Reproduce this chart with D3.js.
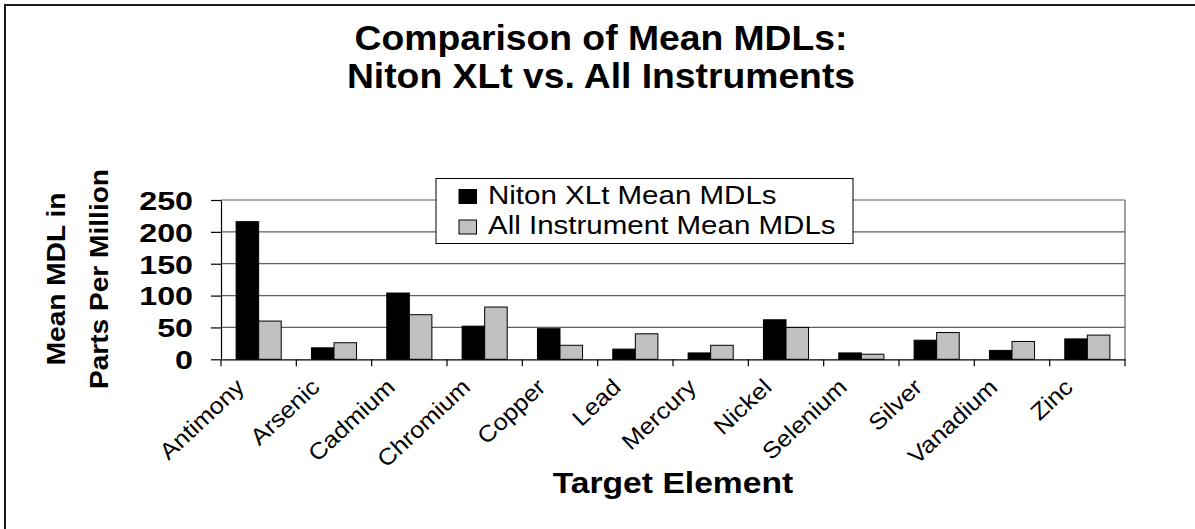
<!DOCTYPE html>
<html>
<head>
<meta charset="utf-8">
<script src="https://cdn.jsdelivr.net/npm/d3@7/dist/d3.min.js"></script>
<style>
  html, body { margin: 0; padding: 0; background: #fff; overflow: hidden; }
  svg { display: block; overflow: hidden; font-family: "Liberation Sans", Arial, sans-serif; }
</style>
</head>
<body>
<svg id="chart" width="1195" height="529"></svg>
<script>
const categories = ["Antimony", "Arsenic", "Cadmium", "Chromium", "Copper", "Lead",
                    "Mercury", "Nickel", "Selenium", "Silver", "Vanadium", "Zinc"];
const seriesNames = ["Niton XLt Mean MDLs", "All Instrument Mean MDLs"];
const nitonValues = [216, 18, 104, 52, 48, 16, 10, 62, 10, 30, 14, 32];
const allInstrumentValues = [60, 26, 70, 82, 22, 40, 22, 50, 8, 42, 28, 38];
const yTicks = [0, 50, 100, 150, 200, 250];
const titleLines = ["Comparison of Mean MDLs:", "Niton XLt vs. All Instruments"];
const yTitleLines = ["Mean MDL in", "Parts Per Million"];
const xTitle = "Target Element";

const colors = ["#000000", "#c0c0c0"];
const seriesValues = [nitonValues, allInstrumentValues];

const svg = d3.select("#chart");

function stretch(sel, f) {
  sel.each(function () {
    const w = this.getComputedTextLength();
    this.setAttribute("textLength", w * f);
    this.setAttribute("lengthAdjust", "spacingAndGlyphs");
  });
}

// outer border (only top/left edges fall inside the picture)
svg.append("path")
  .attr("d", "M5,529 L5,5 L1195,5")
  .attr("fill", "none").attr("stroke", "#1a1a1a").attr("stroke-width", 2);

const plot = { left: 221, right: 1125, top: 200, bottom: 359.3 };

const x = d3.scaleBand().domain(categories).range([plot.left, plot.right]).paddingInner(0).paddingOuter(0);
const xs = d3.scaleBand().domain([0, 1]).range([0, x.bandwidth()]).paddingInner(0).paddingOuter(0.67);
const y = d3.scaleLinear().domain([0, 250]).range([plot.bottom, plot.top]);

// gridlines
svg.append("g").selectAll("line").data(yTicks.filter(t => t > 0)).join("line")
  .attr("x1", plot.left).attr("x2", plot.right)
  .attr("y1", d => y(d)).attr("y2", d => y(d))
  .attr("stroke", "#606060").attr("stroke-width", 1.2);

// right plot border
svg.append("line")
  .attr("x1", plot.right).attr("x2", plot.right)
  .attr("y1", y(250)).attr("y2", y(0))
  .attr("stroke", "#606060").attr("stroke-width", 1.2);

// bars
const groups = svg.append("g").selectAll("g").data(categories).join("g")
  .attr("transform", d => `translate(${x(d)},0)`);
groups.selectAll("rect")
  .data((c, i) => seriesValues.map((vals, s) => ({ s, v: vals[i] })))
  .join("rect")
  .attr("x", d => xs(d.s))
  .attr("width", xs.bandwidth())
  .attr("y", d => y(d.v))
  .attr("height", d => y(0) - y(d.v))
  .attr("fill", d => colors[d.s])
  .attr("stroke", "#000").attr("stroke-width", 1);

// y axis
const yAxis = svg.append("g")
  .attr("transform", `translate(${plot.left},0)`)
  .call(d3.axisLeft(y).tickValues(yTicks).tickSize(10).tickPadding(18).tickSizeOuter(0));
yAxis.select(".domain").attr("stroke", "#000").attr("stroke-width", 1.2);
yAxis.selectAll(".tick line").attr("stroke", "#000").attr("stroke-width", 1.2);
const yLabels = yAxis.selectAll(".tick text")
  .attr("font-size", 26).attr("font-weight", "bold").attr("fill", "#000")
  .attr("font-family", "Liberation Sans, Arial, sans-serif")
  .attr("dy", "0.36em");
stretch(yLabels, 1.24);

// x axis
const xAxis = svg.append("g")
  .attr("transform", `translate(0,${plot.bottom})`)
  .call(d3.axisBottom(x).tickSize(0).tickFormat(""));
xAxis.select(".domain").attr("stroke", "#000").attr("stroke-width", 1.2);
const boundaries = categories.map(c => x(c)).concat([x(categories[categories.length - 1]) + x.bandwidth()]);
xAxis.selectAll(".bt").data(boundaries).join("line").attr("class", "bt")
  .attr("x1", d => d).attr("x2", d => d).attr("y1", 0).attr("y2", 7)
  .attr("stroke", "#000").attr("stroke-width", 1.2);

// x labels
const xLabels = svg.append("g").selectAll("text").data(categories).join("text")
  .attr("transform", d => `translate(${x(d) + x.bandwidth() / 2 - 13},389) rotate(-43)`)
  .attr("text-anchor", "end")
  .attr("font-size", 23)
  .attr("fill", "#000")
  .text(d => d);
stretch(xLabels, 1.1);

// titles
const t = svg.append("g").selectAll("text").data(titleLines).join("text")
  .attr("x", 601).attr("y", (d, i) => 50 + i * 38)
  .attr("text-anchor", "middle")
  .attr("font-size", 35).attr("font-weight", "bold").attr("fill", "#000")
  .text(d => d);
stretch(t, 1.065);

// y title
const yt = svg.append("g").selectAll("text").data(yTitleLines).join("text")
  .attr("transform", (d, i) => `translate(${65 + i * 42.5},279) rotate(-90)`)
  .attr("text-anchor", "middle")
  .attr("font-size", 26).attr("font-weight", "bold").attr("fill", "#000")
  .text(d => d);
stretch(yt, 1.08);

// x title
const xt = svg.append("text")
  .attr("x", (plot.left + plot.right) / 2).attr("y", 492.5)
  .attr("text-anchor", "middle")
  .attr("font-size", 29).attr("font-weight", "bold").attr("fill", "#000")
  .text(xTitle);
stretch(xt, 1.16);

// legend
const legend = svg.append("g").attr("transform", "translate(436,178.5)");
legend.append("rect").attr("x", 0).attr("y", 0).attr("width", 417).attr("height", 65)
  .attr("fill", "#fff").attr("stroke", "#000").attr("stroke-width", 1);
const li = legend.selectAll("g.item").data(seriesNames).join("g").attr("class", "item")
  .attr("transform", (d, i) => `translate(0,${i * 30.5})`);
li.append("rect").attr("x", 23).attr("y", 11).attr("width", 17.5).attr("height", 14)
  .attr("fill", (d, i) => colors[i]).attr("stroke", "#000").attr("stroke-width", 1);
const lt = li.append("text").attr("x", 52).attr("y", 25)
  .attr("font-size", 25).attr("fill", "#000")
  .text(d => d);
stretch(lt, 1.18);
</script>
</body>
</html>
